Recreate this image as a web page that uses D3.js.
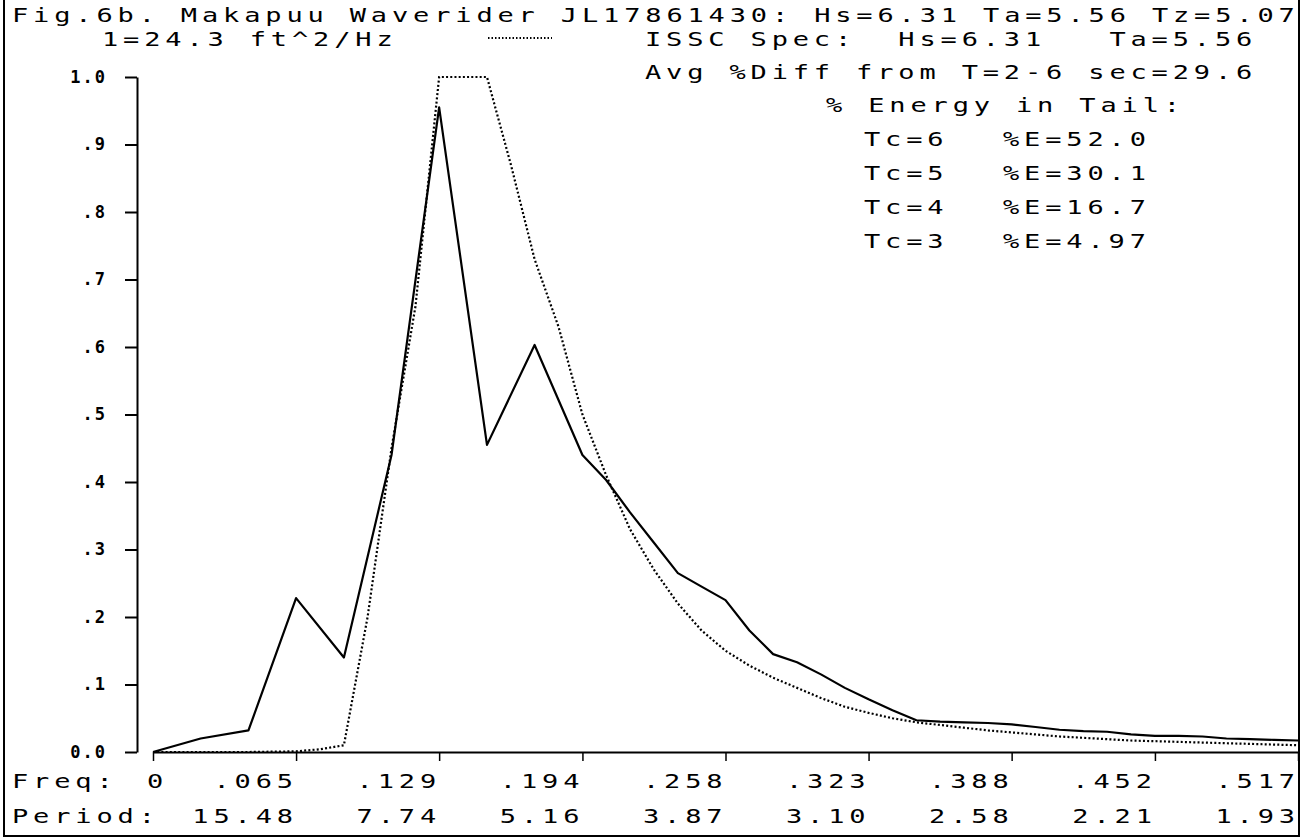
<!DOCTYPE html>
<html>
<head>
<meta charset="utf-8">
<script src="https://cdn.jsdelivr.net/npm/d3@7"></script>
<style>
  body { margin: 0; background: #fff; }
  svg { display: block; }
  text { white-space: pre; }
</style>
</head>
<body>
<svg width="1311" height="840"></svg>
<script>
// Observed (Waverider) spectrum, normalised: 1 = 24.3 ft^2/Hz
const obsFreq = [0, .0215, .0431, .0646, .0862, .1077, .1292, .1508, .1723, .1939,
  .2046, .2154, .2262, .2370, .2477, .2585, .2693, .2800, .2908, .3016, .3124,
  .3231, .3339, .3447, .3554, .3662, .3770, .3877, .3985, .4093, .4201, .4308,
  .4416, .4524, .4631, .4739, .4847, .4954, .5062, .5170];
const obsValue = [0, .02, .032, .228, .14, .44, .955, .455, .603, .44,
  .403, .355, .31, .265, .245, .225, .18, .145, .133, .115, .095,
  .078, .062, .047, .045, .044, .043, .041, .037, .033, .031, .03,
  .026, .024, .024, .023, .02, .019, .018, .017];

// ISSC model spectrum (clipped at 1.0)
const isscFreq = [0, .0431, .0646, .0754, .0862, .0969, .1077, .1185, .1292, .1400,
  .1508, .1616, .1723, .1831, .1939, .2046, .2154, .2262, .2370, .2477, .2585,
  .2693, .2800, .2908, .3016, .3124, .3231, .3339, .3447, .3554, .3662, .3770,
  .3877, .3985, .4093, .4201, .4308, .4416, .4524, .4631, .4739, .4847, .4954,
  .5062, .5170];
const isscValue = [0, 0, .001, .004, .01, .2, .45, .66, 1, 1,
  1, .87, .73, .63, .5, .41, .33, .27, .22, .18, .15,
  .128, .11, .095, .08, .067, .058, .05, .044, .04, .036, .032,
  .029, .026, .023, .021, .019, .017, .016, .015, .014, .013, .012,
  .011, .01];

const freqTicks = [0, .0646, .1292, .1939, .2585, .3231, .3877, .4524, .517];
const freqLabels = ["0", ".065", ".129", ".194", ".258", ".323", ".388", ".452", ".517"];
const periodLabels = ["", "15.48", "7.74", "5.16", "3.87", "3.10", "2.58", "2.21", "1.93"];
const yTicks = [0, .1, .2, .3, .4, .5, .6, .7, .8, .9, 1];
const yLabels = ["0.0", ".1", ".2", ".3", ".4", ".5", ".6", ".7", ".8", ".9", "1.0"];

const title = "Fig.6b. Makapuu Waverider JL17861430: Hs=6.31 Ta=5.56 Tz=5.07";
const scaleNote = "1=24.3 ft^2/Hz";
const infoLines = ["ISSC Spec:  Hs=6.31   Ta=5.56", "Avg %Diff from T=2-6 sec=29.6"];
const tailHead = "% Energy in Tail:";
const tailTc = ["Tc=6", "Tc=5", "Tc=4", "Tc=3"];
const tailE = ["%E=52.0", "%E=30.1", "%E=16.7", "%E=4.97"];

const svg = d3.select("svg"),
  width = +svg.attr("width"),
  height = +svg.attr("height");

const x = d3.scaleLinear().domain([0, 0.517]).range([153, 1298]);
const y = d3.scaleLinear().domain([0, 1]).range([752, 77]);

// plotter-like text: stretched monospace
const FS = 20, SX = 1.35, LS = 3.6;
function txt(px, py, s, anchor) {
  let shift = anchor === "end" ? LS * SX : 0;
  return svg.append("text")
    .attr("transform", `translate(${px + shift},${py}) scale(${SX},1)`)
    .attr("text-anchor", anchor || "start")
    .style("font-family", "'DejaVu Sans Mono', monospace")
    .style("font-size", FS + "px")
    .style("letter-spacing", LS + "px")
    .attr("fill", "#000")
    .text(s);
}

// frame
const frame = d3.path();
frame.moveTo(4, 0); frame.lineTo(4, 836); frame.lineTo(1299, 836); frame.lineTo(1299, 0);
svg.append("path").attr("d", frame.toString())
  .attr("fill", "none").attr("stroke", "#000").attr("stroke-width", 2);

// y axis
const yAxis = svg.append("g")
  .attr("transform", "translate(137,0)")
  .call(d3.axisLeft(y).tickValues(yTicks).tickSize(12).tickSizeOuter(0).tickPadding(18)
    .tickFormat((d, i) => yLabels[i]));
yAxis.select(".domain").attr("stroke-width", 2);
yAxis.selectAll(".tick line").attr("stroke-width", 2);
yAxis.selectAll(".tick text")
  .style("font-family", "'DejaVu Sans Mono', monospace")
  .style("font-size", "17px")
  .style("font-weight", "bold")
  .style("letter-spacing", "2px");

// x axis
const xAxis = svg.append("g")
  .attr("transform", "translate(0,752)")
  .call(d3.axisBottom(x).tickValues(freqTicks).tickSize(9).tickSizeOuter(0).tickFormat(""));
xAxis.select(".domain").attr("stroke-width", 2);
xAxis.selectAll(".tick line").attr("stroke-width", 1.5);

// x labels
txt(12, 788, "Freq:");
txt(12, 823, "Period:");
freqTicks.forEach((f, i) => {
  if (i === 0) txt(x(f) - 6, 788, freqLabels[i]);
  else txt(x(f) - 3, 788, freqLabels[i], "end");
  if (periodLabels[i]) txt(x(f) - 3, 823, periodLabels[i], "end");
});

// curves
const line = d3.line().x(d => x(d[0])).y(d => y(d[1]));
svg.append("path")
  .datum(isscFreq.map((f, i) => [f, isscValue[i]]))
  .attr("d", line)
  .attr("fill", "none").attr("stroke", "#000")
  .attr("stroke-width", 2.2).attr("stroke-dasharray", "2,2.2");
svg.append("path")
  .datum(obsFreq.map((f, i) => [f, obsValue[i]]))
  .attr("d", line)
  .attr("fill", "none").attr("stroke", "#000")
  .attr("stroke-width", 2.2).attr("stroke-linejoin", "round");

// texts
txt(12, 22, title);
txt(102, 46, scaleNote);
svg.append("line").attr("x1", 488).attr("x2", 552).attr("y1", 38).attr("y2", 38)
  .attr("stroke", "#000").attr("stroke-width", 2).attr("stroke-dasharray", "1.5,2");
infoLines.forEach((s, i) => txt(645, 46 + i * 33, s));
txt(826, 112, tailHead);
tailTc.forEach((s, i) => {
  txt(864, 146 + i * 34, s);
  txt(1003, 146 + i * 34, tailE[i]);
});
</script>
</body>
</html>
